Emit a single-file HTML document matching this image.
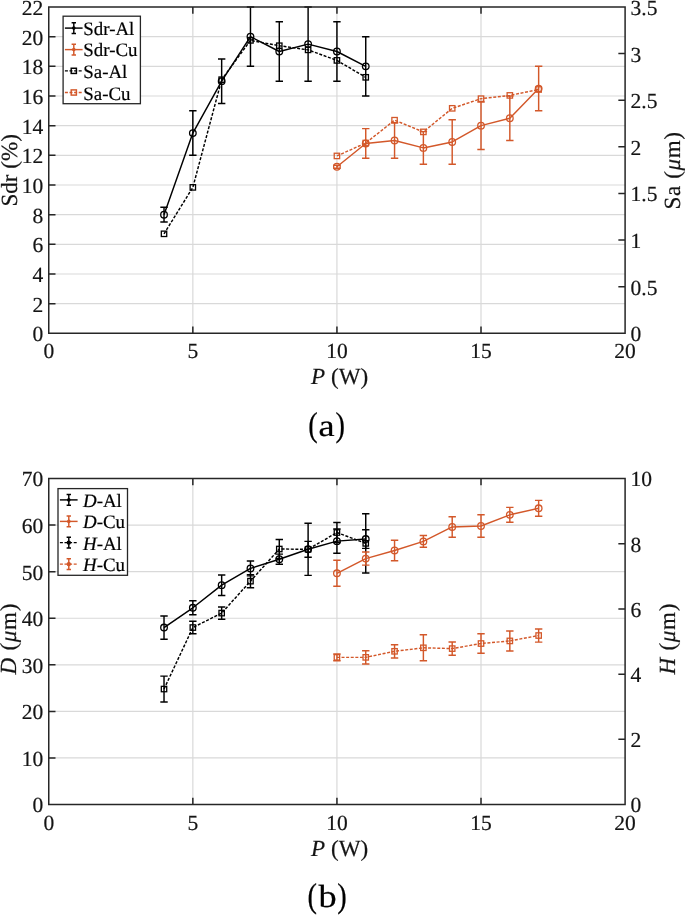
<!DOCTYPE html>
<html><head><meta charset="utf-8"><style>
html,body{margin:0;padding:0;background:#fff;}
body{width:685px;height:915px;overflow:hidden;}
svg{display:block;font-family:"Liberation Serif",serif;will-change:transform;text-rendering:geometricPrecision;}
</style></head><body>
<svg width="685" height="915" viewBox="0 0 685 915">
<path d="M192.84 7.00V333.35 M336.93 7.00V333.35 M481.01 7.00V333.35 M48.75 303.68H625.10 M48.75 274.01H625.10 M48.75 244.35H625.10 M48.75 214.68H625.10 M48.75 185.01H625.10 M48.75 155.34H625.10 M48.75 125.67H625.10 M48.75 96.00H625.10 M48.75 66.34H625.10 M48.75 36.67H625.10" stroke="#d9d9d9" stroke-width="1.2" fill="none"/>
<path d="M164.02 214.68 L192.84 133.09 L221.66 81.17 L250.47 36.67 L279.29 51.50 L308.11 44.09 L336.93 51.50 L365.74 66.34" stroke="#000000" stroke-width="1.45" fill="none" stroke-linejoin="round"/>
<path d="M164.02 207.26V222.09 M160.32 207.26h7.4 M160.32 222.09h7.4 M192.84 110.84V155.34 M189.14 110.84h7.4 M189.14 155.34h7.4 M221.66 58.92V103.42 M217.96 58.92h7.4 M217.96 103.42h7.4 M250.47 7.00V66.34 M246.77 7.00h7.4 M246.77 66.34h7.4 M279.29 21.83V81.17 M275.59 21.83h7.4 M275.59 81.17h7.4 M308.11 7.00V81.17 M304.41 7.00h7.4 M304.41 81.17h7.4 M336.93 21.83V81.17 M333.23 21.83h7.4 M333.23 81.17h7.4 M365.74 36.67V96.00 M362.04 36.67h7.4 M362.04 96.00h7.4" stroke="#000000" stroke-width="1.45" fill="none"/>
<g stroke="#000000" stroke-width="1.3" fill="none"><circle cx="164.02" cy="214.68" r="3.3"/><circle cx="192.84" cy="133.09" r="3.3"/><circle cx="221.66" cy="81.17" r="3.3"/><circle cx="250.47" cy="36.67" r="3.3"/><circle cx="279.29" cy="51.50" r="3.3"/><circle cx="308.11" cy="44.09" r="3.3"/><circle cx="336.93" cy="51.50" r="3.3"/><circle cx="365.74" cy="66.34" r="3.3"/></g>
<path d="M164.02 233.81 L192.84 187.38 L221.66 79.69 L250.47 40.38 L279.29 45.72 L308.11 49.87 L336.93 60.40 L365.74 77.31" stroke="#000000" stroke-width="1.45" fill="none" stroke-dasharray="3 1.6" stroke-linejoin="round"/>
<g stroke="#000000" stroke-width="1.3" fill="none"><rect x="161.32" y="231.11" width="5.4" height="5.4"/><rect x="190.14" y="184.68" width="5.4" height="5.4"/><rect x="218.96" y="76.99" width="5.4" height="5.4"/><rect x="247.77" y="37.68" width="5.4" height="5.4"/><rect x="276.59" y="43.02" width="5.4" height="5.4"/><rect x="305.41" y="47.17" width="5.4" height="5.4"/><rect x="334.23" y="57.70" width="5.4" height="5.4"/><rect x="363.04" y="74.61" width="5.4" height="5.4"/></g>
<path d="M336.93 166.76 L365.74 143.47 L394.56 140.51 L423.38 147.92 L452.20 141.99 L481.01 125.67 L509.83 118.26 L538.65 88.59" stroke="#D3582A" stroke-width="1.45" fill="none" stroke-linejoin="round"/>
<path d="M336.93 165.28V168.25 M333.23 165.28h7.4 M333.23 168.25h7.4 M365.74 128.64V158.31 M362.04 128.64h7.4 M362.04 158.31h7.4 M394.56 122.71V158.31 M390.86 122.71h7.4 M390.86 158.31h7.4 M423.38 131.61V164.24 M419.68 131.61h7.4 M419.68 164.24h7.4 M452.20 119.74V164.24 M448.50 119.74h7.4 M448.50 164.24h7.4 M481.01 101.94V149.41 M477.31 101.94h7.4 M477.31 149.41h7.4 M509.83 96.00V140.51 M506.13 96.00h7.4 M506.13 140.51h7.4 M538.65 66.34V110.84 M534.95 66.34h7.4 M534.95 110.84h7.4" stroke="#D3582A" stroke-width="1.45" fill="none"/>
<g stroke="#D3582A" stroke-width="1.3" fill="none"><circle cx="336.93" cy="166.76" r="3.3"/><circle cx="365.74" cy="143.47" r="3.3"/><circle cx="394.56" cy="140.51" r="3.3"/><circle cx="423.38" cy="147.92" r="3.3"/><circle cx="452.20" cy="141.99" r="3.3"/><circle cx="481.01" cy="125.67" r="3.3"/><circle cx="509.83" cy="118.26" r="3.3"/><circle cx="538.65" cy="88.59" r="3.3"/></g>
<path d="M336.93 155.93 L365.74 143.03 L394.56 120.18 L423.38 131.90 L452.20 108.32 L481.01 98.67 L509.83 95.41 L538.65 89.48" stroke="#D3582A" stroke-width="1.45" fill="none" stroke-dasharray="3 1.6" stroke-linejoin="round"/>
<g stroke="#D3582A" stroke-width="1.3" fill="none"><rect x="334.23" y="153.23" width="5.4" height="5.4"/><rect x="363.04" y="140.33" width="5.4" height="5.4"/><rect x="391.86" y="117.48" width="5.4" height="5.4"/><rect x="420.68" y="129.20" width="5.4" height="5.4"/><rect x="449.50" y="105.62" width="5.4" height="5.4"/><rect x="478.31" y="95.97" width="5.4" height="5.4"/><rect x="507.13" y="92.71" width="5.4" height="5.4"/><rect x="535.95" y="86.78" width="5.4" height="5.4"/></g>
<path d="M192.84 333.35v-6.0 M192.84 7.00v6.0 M336.93 333.35v-6.0 M336.93 7.00v6.0 M481.01 333.35v-6.0 M481.01 7.00v6.0 M48.75 303.68h6.0 M48.75 274.01h6.0 M48.75 244.35h6.0 M48.75 214.68h6.0 M48.75 185.01h6.0 M48.75 155.34h6.0 M48.75 125.67h6.0 M48.75 96.00h6.0 M48.75 66.34h6.0 M48.75 36.67h6.0 M625.10 286.73h-6.0 M625.10 240.11h-6.0 M625.10 193.49h-6.0 M625.10 146.86h-6.0 M625.10 100.24h-6.0 M625.10 53.62h-6.0 M48.75 7.00H625.10V333.35H48.75Z" stroke="#262626" stroke-width="1.5" fill="none" stroke-linecap="square"/>
<g font-size="21.5" fill="#141414" stroke="#141414" stroke-width="0.2"><text x="48.75" y="358.35" text-anchor="middle">0</text><text x="192.84" y="358.35" text-anchor="middle">5</text><text x="336.93" y="358.35" text-anchor="middle">10</text><text x="481.01" y="358.35" text-anchor="middle">15</text><text x="625.10" y="358.35" text-anchor="middle">20</text><text x="43.3" y="341.25" text-anchor="end">0</text><text x="43.3" y="311.58" text-anchor="end">2</text><text x="43.3" y="281.91" text-anchor="end">4</text><text x="43.3" y="252.25" text-anchor="end">6</text><text x="43.3" y="222.58" text-anchor="end">8</text><text x="43.3" y="192.91" text-anchor="end">10</text><text x="43.3" y="163.24" text-anchor="end">12</text><text x="43.3" y="133.57" text-anchor="end">14</text><text x="43.3" y="103.90" text-anchor="end">16</text><text x="43.3" y="74.24" text-anchor="end">18</text><text x="43.3" y="44.57" text-anchor="end">20</text><text x="43.3" y="14.90" text-anchor="end">22</text><text x="630.6" y="341.25">0</text><text x="630.6" y="294.63">0.5</text><text x="630.6" y="248.01">1</text><text x="630.6" y="201.39">1.5</text><text x="630.6" y="154.76">2</text><text x="630.6" y="108.14">2.5</text><text x="630.6" y="61.52">3</text><text x="630.6" y="14.90">3.5</text></g>
<rect x="63.1" y="16.2" width="77.30" height="87.50" fill="#fff" stroke="#262626" stroke-width="1.3"/>
<path d="M64.9 28.1H82.6" stroke="#000000" stroke-width="1.45"/>
<path d="M73.8 22.700000000000003V33.5M71.6 22.700000000000003h4.4M71.6 33.5h4.4" stroke="#000000" stroke-width="1.45"/>
<circle cx="73.8" cy="28.1" r="1.2" fill="#000000" stroke="#000000" stroke-width="1.2"/>
<text x="83.3" y="34.7" font-size="18.9" fill="#000" stroke="#000" stroke-width="0.2">Sdr-Al</text>
<path d="M64.9 49.6H82.6" stroke="#D3582A" stroke-width="1.45"/>
<path d="M73.8 44.2V55.0M71.6 44.2h4.4M71.6 55.0h4.4" stroke="#D3582A" stroke-width="1.45"/>
<circle cx="73.8" cy="49.6" r="1.2" fill="#D3582A" stroke="#D3582A" stroke-width="1.2"/>
<text x="83.3" y="56.4" font-size="18.9" fill="#000" stroke="#000" stroke-width="0.2">Sdr-Cu</text>
<path d="M64.9 70.85H82.6" stroke="#000000" stroke-width="1.45" stroke-dasharray="3 1.6"/>
<rect x="71.2" y="68.25" width="5.2" height="5.2" fill="none" stroke="#000000" stroke-width="1.45"/>
<text x="83.3" y="77.8" font-size="18.9" fill="#000" stroke="#000" stroke-width="0.2">Sa-Al</text>
<path d="M64.9 92.5H82.6" stroke="#D3582A" stroke-width="1.45" stroke-dasharray="3 1.6"/>
<rect x="71.2" y="89.9" width="5.2" height="5.2" fill="none" stroke="#D3582A" stroke-width="1.45"/>
<text x="83.3" y="99.5" font-size="18.9" fill="#000" stroke="#000" stroke-width="0.2">Sa-Cu</text>
<text transform="translate(17,170.3) rotate(-90)" text-anchor="middle" font-size="23.1" fill="#141414" stroke="#141414" stroke-width="0.2">Sdr (%)</text>
<text transform="translate(679.6,170.7) rotate(-90)" text-anchor="middle" font-size="23.1" fill="#141414" stroke="#141414" stroke-width="0.2" textLength="77.5" lengthAdjust="spacing">Sa (<tspan font-style="italic">μ</tspan>m)</text>
<text x="339.6" y="384.1" text-anchor="middle" font-size="23.1" fill="#141414" stroke="#141414" stroke-width="0.2"><tspan font-style="italic">P</tspan> (W)</text>
<g font-size="33" fill="#000" stroke="#000" stroke-width="0.25"><text transform="translate(308.30,436.40) scale(0.86,1.04)">(</text><text transform="translate(318.60,436.00) scale(1.1,0.93)">a</text><text transform="translate(335.60,436.40) scale(0.86,1.04)">)</text></g>
<path d="M192.84 478.50V804.55 M336.93 478.50V804.55 M481.01 478.50V804.55 M48.75 757.97H625.10 M48.75 711.39H625.10 M48.75 664.81H625.10 M48.75 618.24H625.10 M48.75 571.66H625.10 M48.75 525.08H625.10" stroke="#d9d9d9" stroke-width="1.2" fill="none"/>
<path d="M164.02 627.55 L192.84 607.80 L221.66 585.16 L250.47 568.40 L279.29 559.22 L308.11 549.30 L336.93 541.15 L365.74 539.05" stroke="#000000" stroke-width="1.45" fill="none" stroke-linejoin="round"/>
<path d="M164.02 615.91V639.20 M160.32 615.91h7.4 M160.32 639.20h7.4 M192.84 600.82V614.79 M189.14 600.82h7.4 M189.14 614.79h7.4 M221.66 574.92V595.41 M217.96 574.92h7.4 M217.96 595.41h7.4 M250.47 560.94V575.85 M246.77 560.94h7.4 M246.77 575.85h7.4 M279.29 554.10V564.34 M275.59 554.10h7.4 M275.59 564.34h7.4 M308.11 523.22V575.38 M304.41 523.22h7.4 M304.41 575.38h7.4 M336.93 529.04V553.26 M333.23 529.04h7.4 M333.23 553.26h7.4 M365.74 529.74V548.37 M362.04 529.74h7.4 M362.04 548.37h7.4" stroke="#000000" stroke-width="1.45" fill="none"/>
<g stroke="#000000" stroke-width="1.3" fill="none"><circle cx="164.02" cy="627.55" r="3.3"/><circle cx="192.84" cy="607.80" r="3.3"/><circle cx="221.66" cy="585.16" r="3.3"/><circle cx="250.47" cy="568.40" r="3.3"/><circle cx="279.29" cy="559.22" r="3.3"/><circle cx="308.11" cy="549.30" r="3.3"/><circle cx="336.93" cy="541.15" r="3.3"/><circle cx="365.74" cy="539.05" r="3.3"/></g>
<path d="M164.02 689.04 L192.84 627.55 L221.66 613.11 L250.47 581.16 L279.29 549.02 L308.11 549.30 L336.93 532.53 L365.74 543.38" stroke="#000000" stroke-width="1.45" fill="none" stroke-dasharray="3 1.6" stroke-linejoin="round"/>
<path d="M164.02 676.13V701.94 M160.32 676.13h7.4 M160.32 701.94h7.4 M192.84 621.26V633.84 M189.14 621.26h7.4 M189.14 633.84h7.4 M221.66 606.92V619.31 M217.96 606.92h7.4 M217.96 619.31h7.4 M250.47 574.64V587.68 M246.77 574.64h7.4 M246.77 587.68h7.4 M279.29 539.52V558.52 M275.59 539.52h7.4 M275.59 558.52h7.4 M308.11 541.38V557.22 M304.41 541.38h7.4 M304.41 557.22h7.4 M336.93 522.52V542.55 M333.23 522.52h7.4 M333.23 542.55h7.4 M365.74 513.81V572.96 M362.04 513.81h7.4 M362.04 572.96h7.4" stroke="#000000" stroke-width="1.45" fill="none"/>
<g stroke="#000000" stroke-width="1.3" fill="none"><rect x="161.32" y="686.34" width="5.4" height="5.4"/><rect x="190.14" y="624.85" width="5.4" height="5.4"/><rect x="218.96" y="610.41" width="5.4" height="5.4"/><rect x="247.77" y="578.46" width="5.4" height="5.4"/><rect x="276.59" y="546.32" width="5.4" height="5.4"/><rect x="305.41" y="546.60" width="5.4" height="5.4"/><rect x="334.23" y="529.83" width="5.4" height="5.4"/><rect x="363.04" y="540.68" width="5.4" height="5.4"/></g>
<path d="M336.93 573.29 L365.74 558.62 L394.56 550.46 L423.38 541.38 L452.20 526.94 L481.01 526.01 L509.83 514.83 L538.65 508.31" stroke="#D3582A" stroke-width="1.45" fill="none" stroke-linejoin="round"/>
<path d="M336.93 560.25V586.33 M333.23 560.25h7.4 M333.23 586.33h7.4 M365.74 552.09V565.14 M362.04 552.09h7.4 M362.04 565.14h7.4 M394.56 540.22V560.71 M390.86 540.22h7.4 M390.86 560.71h7.4 M423.38 535.56V547.20 M419.68 535.56h7.4 M419.68 547.20h7.4 M452.20 516.69V537.19 M448.50 516.69h7.4 M448.50 537.19h7.4 M481.01 514.83V537.19 M477.31 514.83h7.4 M477.31 537.19h7.4 M509.83 507.38V522.28 M506.13 507.38h7.4 M506.13 522.28h7.4 M538.65 500.39V516.23 M534.95 500.39h7.4 M534.95 516.23h7.4" stroke="#D3582A" stroke-width="1.45" fill="none"/>
<g stroke="#D3582A" stroke-width="1.3" fill="none"><circle cx="336.93" cy="573.29" r="3.3"/><circle cx="365.74" cy="558.62" r="3.3"/><circle cx="394.56" cy="550.46" r="3.3"/><circle cx="423.38" cy="541.38" r="3.3"/><circle cx="452.20" cy="526.94" r="3.3"/><circle cx="481.01" cy="526.01" r="3.3"/><circle cx="509.83" cy="514.83" r="3.3"/><circle cx="538.65" cy="508.31" r="3.3"/></g>
<path d="M336.93 657.36 L365.74 657.36 L394.56 651.31 L423.38 647.81 L452.20 648.60 L481.01 643.53 L509.83 640.92 L538.65 635.52" stroke="#D3582A" stroke-width="1.45" fill="none" stroke-dasharray="3 1.6" stroke-linejoin="round"/>
<path d="M336.93 653.96V660.76 M333.23 653.96h7.4 M333.23 660.76h7.4 M365.74 650.65V664.07 M362.04 650.65h7.4 M362.04 664.07h7.4 M394.56 644.69V657.92 M390.86 644.69h7.4 M390.86 657.92h7.4 M423.38 634.82V660.81 M419.68 634.82h7.4 M419.68 660.81h7.4 M452.20 641.99V655.22 M448.50 641.99h7.4 M448.50 655.22h7.4 M481.01 633.75V653.31 M477.31 633.75h7.4 M477.31 653.31h7.4 M509.83 630.91V650.93 M506.13 630.91h7.4 M506.13 650.93h7.4 M538.65 628.90V642.13 M534.95 628.90h7.4 M534.95 642.13h7.4" stroke="#D3582A" stroke-width="1.45" fill="none"/>
<g stroke="#D3582A" stroke-width="1.3" fill="none"><rect x="334.23" y="654.66" width="5.4" height="5.4"/><rect x="363.04" y="654.66" width="5.4" height="5.4"/><rect x="391.86" y="648.61" width="5.4" height="5.4"/><rect x="420.68" y="645.11" width="5.4" height="5.4"/><rect x="449.50" y="645.90" width="5.4" height="5.4"/><rect x="478.31" y="640.83" width="5.4" height="5.4"/><rect x="507.13" y="638.22" width="5.4" height="5.4"/><rect x="535.95" y="632.82" width="5.4" height="5.4"/></g>
<path d="M192.84 804.55v-6.0 M192.84 478.50v6.0 M336.93 804.55v-6.0 M336.93 478.50v6.0 M481.01 804.55v-6.0 M481.01 478.50v6.0 M48.75 757.97h6.0 M48.75 711.39h6.0 M48.75 664.81h6.0 M48.75 618.24h6.0 M48.75 571.66h6.0 M48.75 525.08h6.0 M625.10 739.34h-6.0 M625.10 674.13h-6.0 M625.10 608.92h-6.0 M625.10 543.71h-6.0 M48.75 478.50H625.10V804.55H48.75Z" stroke="#262626" stroke-width="1.5" fill="none" stroke-linecap="square"/>
<g font-size="21.5" fill="#141414" stroke="#141414" stroke-width="0.2"><text x="48.75" y="829.55" text-anchor="middle">0</text><text x="192.84" y="829.55" text-anchor="middle">5</text><text x="336.93" y="829.55" text-anchor="middle">10</text><text x="481.01" y="829.55" text-anchor="middle">15</text><text x="625.10" y="829.55" text-anchor="middle">20</text><text x="43.3" y="812.45" text-anchor="end">0</text><text x="43.3" y="765.87" text-anchor="end">10</text><text x="43.3" y="719.29" text-anchor="end">20</text><text x="43.3" y="672.71" text-anchor="end">30</text><text x="43.3" y="626.14" text-anchor="end">40</text><text x="43.3" y="579.56" text-anchor="end">50</text><text x="43.3" y="532.98" text-anchor="end">60</text><text x="43.3" y="486.40" text-anchor="end">70</text><text x="630.6" y="812.45">0</text><text x="630.6" y="747.24">2</text><text x="630.6" y="682.03">4</text><text x="630.6" y="616.82">6</text><text x="630.6" y="551.61">8</text><text x="630.6" y="486.40">10</text></g>
<rect x="58.0" y="488.6" width="69.50" height="86.70" fill="#fff" stroke="#262626" stroke-width="1.3"/>
<path d="M59.9 499.9H77.6" stroke="#000000" stroke-width="1.45"/>
<path d="M68.8 494.5V505.29999999999995M66.6 494.5h4.4M66.6 505.29999999999995h4.4" stroke="#000000" stroke-width="1.45"/>
<circle cx="68.8" cy="499.9" r="1.2" fill="#000000" stroke="#000000" stroke-width="1.2"/>
<text x="83.0" y="506.9" font-size="18.9" fill="#000" stroke="#000" stroke-width="0.2"><tspan font-style="italic">D</tspan>-Al</text>
<path d="M59.9 521.4H77.6" stroke="#D3582A" stroke-width="1.45"/>
<path d="M68.8 516.0V526.8M66.6 516.0h4.4M66.6 526.8h4.4" stroke="#D3582A" stroke-width="1.45"/>
<circle cx="68.8" cy="521.4" r="1.2" fill="#D3582A" stroke="#D3582A" stroke-width="1.2"/>
<text x="83.0" y="528.4" font-size="18.9" fill="#000" stroke="#000" stroke-width="0.2"><tspan font-style="italic">D</tspan>-Cu</text>
<path d="M59.9 542.6H77.6" stroke="#000000" stroke-width="1.45" stroke-dasharray="3 1.6"/>
<path d="M68.8 537.2V548.0M66.6 537.2h4.4M66.6 548.0h4.4" stroke="#000000" stroke-width="1.45"/>
<circle cx="68.8" cy="542.6" r="1.6" fill="#000000" stroke="#000000" stroke-width="1.2"/>
<text x="83.0" y="549.6" font-size="18.9" fill="#000" stroke="#000" stroke-width="0.2"><tspan font-style="italic">H</tspan>-Al</text>
<path d="M59.9 564.1H77.6" stroke="#D3582A" stroke-width="1.45" stroke-dasharray="3 1.6"/>
<path d="M68.8 558.7V569.5M66.6 558.7h4.4M66.6 569.5h4.4" stroke="#D3582A" stroke-width="1.45"/>
<circle cx="68.8" cy="564.1" r="1.6" fill="#D3582A" stroke="#D3582A" stroke-width="1.2"/>
<text x="83.0" y="571.1" font-size="18.9" fill="#000" stroke="#000" stroke-width="0.2"><tspan font-style="italic">H</tspan>-Cu</text>
<text transform="translate(16.4,639) rotate(-90)" text-anchor="middle" font-size="23.1" fill="#141414" stroke="#141414" stroke-width="0.2" textLength="70.9" lengthAdjust="spacing"><tspan font-style="italic">D</tspan> (<tspan font-style="italic">μ</tspan>m)</text>
<text transform="translate(674.8,639) rotate(-90)" text-anchor="middle" font-size="23.1" fill="#141414" stroke="#141414" stroke-width="0.2" textLength="70.9" lengthAdjust="spacing"><tspan font-style="italic">H</tspan> (<tspan font-style="italic">μ</tspan>m)</text>
<text x="339.6" y="855.6" text-anchor="middle" font-size="23.1" fill="#141414" stroke="#141414" stroke-width="0.2"><tspan font-style="italic">P</tspan> (W)</text>
<g font-size="33" fill="#000" stroke="#000" stroke-width="0.25"><text transform="translate(307.40,907.40) scale(0.86,1.04)">(</text><text transform="translate(318.60,907.00) scale(1.1,0.97)">b</text><text transform="translate(337.20,907.40) scale(0.86,1.04)">)</text></g>
</svg>
</body></html>
